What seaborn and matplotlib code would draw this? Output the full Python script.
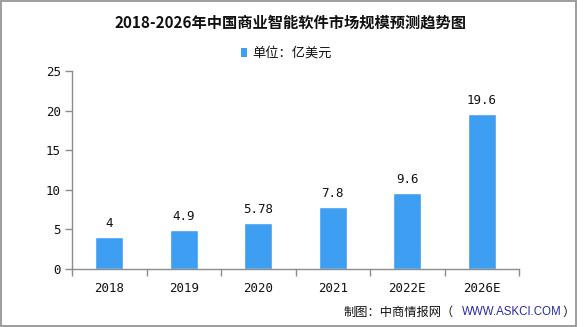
import matplotlib
matplotlib.use("Agg")
import matplotlib.pyplot as plt
import seaborn as sns
import pandas as pd
from matplotlib.patches import Rectangle
from matplotlib.ticker import FixedLocator

years = ["2018", "2019", "2020", "2021", "2022E", "2026E"]
values = [4, 4.9, 5.78, 7.8, 9.6, 19.6]
value_labels = ["4", "4.9", "5.78", "7.8", "9.6", "19.6"]
y_ticks = [0, 5, 10, 15, 20, 25]

sns.set_theme(style="white")
plt.rcParams["font.family"] = ["Noto Sans CJK SC", "DejaVu Sans"]

bar_color = "#3d9ef2"
axis_gray = "#8c8c8c"
num_font = ["DejaVu Sans Mono"]

fig = plt.figure(figsize=(5.85, 3.27), dpi=100)
ax = fig.add_axes([72 / 585, 1 - 269 / 327, (519 - 72) / 585, (269 - 71) / 327])

df = pd.DataFrame({"year": years, "value": values})
sns.barplot(data=df, x="year", y="value", color=bar_color, width=0.37,
            saturation=1, ax=ax)

ax.set_xlim(-0.5, len(years) - 0.5)
ax.set_ylim(0, 25)
ax.yaxis.set_major_locator(FixedLocator(y_ticks))
ax.set_xlabel("")
ax.set_ylabel("")

for s in ["top", "right"]:
    ax.spines[s].set_visible(False)
for s in ["left", "bottom"]:
    ax.spines[s].set_color(axis_gray)
    ax.spines[s].set_linewidth(1.0)

ax.tick_params(axis="y", which="major", length=5, color=axis_gray, width=1,
               direction="out", left=True, pad=3, labelsize=9)
ax.tick_params(axis="x", which="major", length=0, pad=9, labelsize=9)
ax.xaxis.set_minor_locator(FixedLocator([i - 0.5 for i in range(len(years) + 1)]))
ax.tick_params(axis="x", which="minor", length=5, color=axis_gray, width=1,
               direction="out", bottom=True)
for lab in ax.get_xticklabels() + ax.get_yticklabels():
    lab.set_fontfamily(num_font)
    lab.set_color("#111111")

for i, (v, t) in enumerate(zip(values, value_labels)):
    ax.annotate(t, (i, v), xytext=(0, 5), textcoords="offset points",
                ha="center", va="bottom", fontsize=9, family=num_font,
                color="#111111")

fig.text(0.497, 1 - 23 / 327, "2018-2026年中国商业智能软件市场规模预测趋势图",
         ha="center", va="center", fontsize=11, fontweight="bold",
         color="#111111")

fig.patches.append(Rectangle((241 / 585, 1 - 57 / 327), 6 / 585, 9 / 327,
                             transform=fig.transFigure, facecolor=bar_color,
                             edgecolor="none"))
fig.text(252 / 585, 1 - 53 / 327, "单位：亿美元", ha="left", va="center",
         fontsize=9.5, color="#111111")

src_y = 1 - 312 / 327
fig.text(343 / 585, src_y, "制图：中商情报网（", ha="left", va="center",
         fontsize=8.8, color="#111111")
fig.text(462 / 585, src_y, "WWW.ASKCI.COM", ha="left", va="center",
         fontsize=8.3, color="#2a2aa0", family=["Liberation Sans"])
fig.text(562 / 585, src_y, "）", ha="left", va="center",
         fontsize=8.8, color="#111111")

fig.patches.append(Rectangle((0.5 / 585, 1 / 327), 575 / 585, 325 / 327,
                             transform=fig.transFigure, facecolor="none",
                             edgecolor=axis_gray, linewidth=1.2))

fig.savefig("out.png", dpi=100)
